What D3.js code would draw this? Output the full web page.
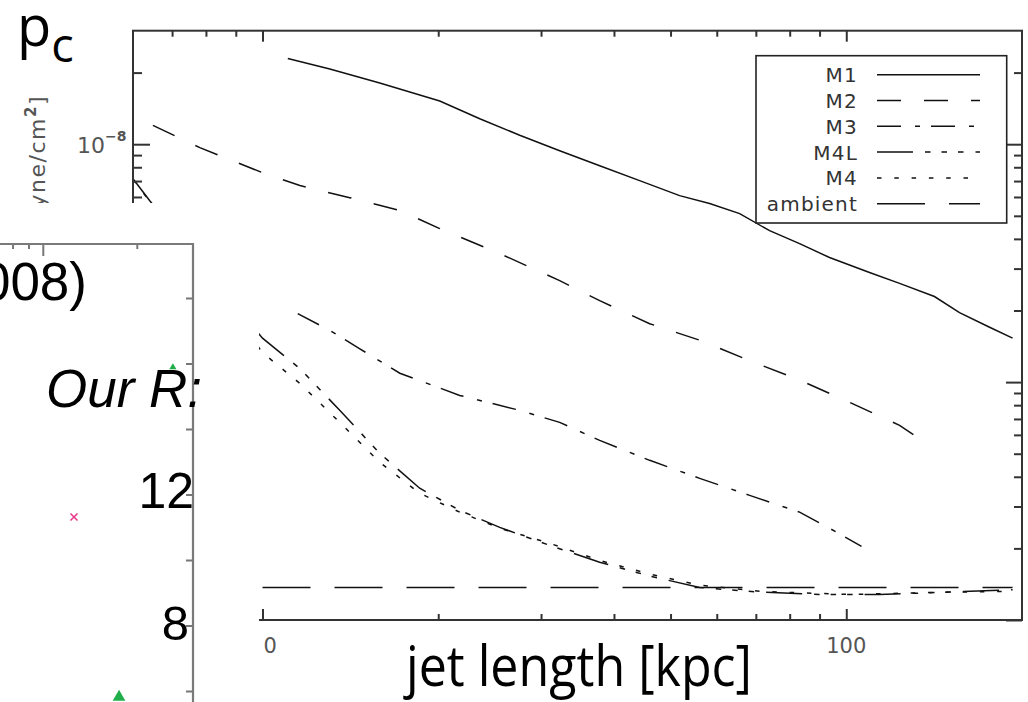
<!DOCTYPE html>
<html>
<head>
<meta charset="UTF-8">
<title>Cocoon pressure vs jet length</title>
<script src="https://cdn.jsdelivr.net/npm/d3@7"></script>
<style>
body { margin: 0; background: #fff; }
svg { display: block; }
.frame { fill: none; stroke: #333; stroke-width: 2px; }
.curve { fill: none; stroke: #111; stroke-width: 1.5px; }
.idl { font-family: "DejaVu Sans", sans-serif; fill: #555; }
.tick line { stroke: #333; stroke-width: 2px; }
</style>
</head>
<body>
<script>
// ---- values: jet length [kpc] and p_c [dyne/cm^2] ----
var m1X = [11.05, 13.04, 15.88, 20.12, 23.56, 27.58, 32.29, 37.81, 44.26, 51.82, 58.33, 65.67, 73.9, 83.18, 93.6, 109.6, 123.4, 141.6, 156.3, 176, 192.7];
var m1Y = [2.29e-8, 2.07e-8, 1.81e-8, 1.52e-8, 1.28e-8, 1.09e-8, 9.39e-9, 8.12e-9, 7.03e-9, 6.08e-9, 5.63e-9, 5.11e-9, 4.33e-9, 3.82e-9, 3.34e-9, 2.89e-9, 2.60e-9, 2.29e-9, 1.96e-9, 1.70e-9, 1.53e-9];

var m2X = [6.49, 7.81, 10, 11.59, 14.11, 17.19, 20.12, 25.49, 32.29, 37.81, 46.05, 56.09, 68.31, 83.18, 101.3, 123.4, 136.2];
var m2Y = [1.20e-8, 9.67e-9, 7.59e-9, 6.70e-9, 5.96e-9, 5.26e-9, 4.42e-9, 3.47e-9, 2.67e-9, 2.20e-9, 1.76e-9, 1.50e-9, 1.23e-9, 1.02e-9, 8.22e-10, 6.58e-10, 5.58e-10];

var m3X = [11.49, 13.04, 14.68, 17.19, 21.77, 27.58, 32.29, 37.81, 46.05, 56.09, 68.31, 83.18, 93.6, 106.2];
var m3Y = [1.94e-9, 1.65e-9, 1.38e-9, 1.09e-9, 8.79e-10, 7.61e-10, 6.77e-10, 5.69e-10, 4.69e-10, 3.94e-10, 3.34e-10, 2.84e-10, 2.43e-10, 2.04e-10];

var m4lX = [6.0, 6.41, 7.81, 10, 11.59, 13.56, 15.88, 18.59, 21.77, 25.49, 31.04, 37.81, 46.05, 56.09, 71.0, 90.0, 114, 150.3, 192.7];
var m4lY = [7.16e-9, 5.79e-9, 3.18e-9, 1.53e-9, 1.14e-9, 7.61e-10, 5.02e-10, 3.58e-10, 2.89e-10, 2.45e-10, 2.06e-10, 1.75e-10, 1.53e-10, 1.37e-10, 1.31e-10, 1.28e-10, 1.28e-10, 1.31e-10, 1.34e-10];

var m4X = [6.0, 6.41, 7.81, 10, 11.59, 13.56, 15.88, 18.59, 21.77, 25.49, 31.04, 37.81, 46.05, 56.09, 71.0, 101.3, 150.3, 192.7];
var m4Y = [7.1e-9, 5.75e-9, 3.05e-9, 1.33e-9, 9.87e-10, 6.77e-10, 4.60e-10, 3.41e-10, 2.84e-10, 2.43e-10, 2.10e-10, 1.78e-10, 1.56e-10, 1.40e-10, 1.32e-10, 1.28e-10, 1.31e-10, 1.32e-10];

var ambX = [10, 192.7];
var ambY = [1.37e-10, 1.37e-10];

var legendNames = ["M1", "M2", "M3", "M4L", "M4", "ambient"];

// tick values
var xMajor = [10, 100];
var xMinor = [7, 8, 9, 20, 30, 40, 50, 60, 70, 80, 90];
var yMajor = [1e-10, 1e-9, 1e-8];
var yMinor = [2e-10, 3e-10, 4e-10, 5e-10, 6e-10, 7e-10, 8e-10, 9e-10,
              2e-9, 3e-9, 4e-9, 5e-9, 6e-9, 7e-9, 8e-9, 9e-9, 2e-8];

// pieces of the slide panel lying over the lower left corner
var panelXTicks = [8, 9, 10, 20];
var panelYTicks = [6, 8, 10, 12, 14, 16, 18];
var panelCross = [[12.54, 11.33]];
var panelTriangles = [[17.48, 5.83], [26.0, 15.9]];

// line styles (dash patterns) per series
var dashes = {
  "M1": null,
  "M2": "24,23",
  "M3": "24,14,5,11",
  "M4L": "36,12,5.5,11,5.5,11,5.5,12",
  "M4": "4.5,12.8",
  "ambient": "48,24"
};

var series = [
  { name: "M1", x: m1X, y: m1Y },
  { name: "M2", x: m2X, y: m2Y },
  { name: "M3", x: m3X, y: m3Y },
  { name: "M4L", x: m4lX, y: m4lY },
  { name: "M4", x: m4X, y: m4Y },
  { name: "ambient", x: ambX, y: ambY }
];

var width = 1028, height = 702;

var svg = d3.select("body").append("svg")
    .attr("width", width)
    .attr("height", height);

// plot box (named so they don't clash with window.top)
var pLeft = 133, pRight = 1022, pTop = 30.7, pBottom = 620;

var x = d3.scaleLog().domain([6, 200]).range([pLeft, pRight]);
var y = d3.scaleLog().domain([1e-10, 3e-8]).range([pBottom, pTop]);

svg.append("clipPath").attr("id", "plotclip")
  .append("rect")
    .attr("x", pLeft).attr("y", pTop)
    .attr("width", pRight - pLeft).attr("height", pBottom - pTop);

// ****************** curves ******************
var line = d3.line()
    .x(function(d) { return x(d[0]); })
    .y(function(d) { return y(d[1]); });

svg.append("g")
    .attr("clip-path", "url(#plotclip)")
  .selectAll("path")
  .data(series)
  .enter().append("path")
    .attr("class", "curve")
    .attr("d", function(s) { return line(d3.zip(s.x, s.y)); })
    .attr("stroke-dasharray", function(s) { return dashes[s.name]; });

// ****************** axes (IDL style, ticks inward on all 4 sides) ******************
function clean(g) {
  g.select(".domain").remove();
  g.selectAll("text").remove();
}

svg.append("g").attr("transform", "translate(0," + pBottom + ")")
    .call(d3.axisBottom(x).tickValues(xMajor).tickSize(-11)).call(clean);
svg.append("g").attr("transform", "translate(0," + pBottom + ")")
    .call(d3.axisBottom(x).tickValues(xMinor).tickSize(-6)).call(clean);
svg.append("g").attr("transform", "translate(0," + pTop + ")")
    .call(d3.axisTop(x).tickValues(xMajor).tickSize(-11)).call(clean);
svg.append("g").attr("transform", "translate(0," + pTop + ")")
    .call(d3.axisTop(x).tickValues(xMinor).tickSize(-6)).call(clean);
svg.append("g").attr("transform", "translate(" + pLeft + ",0)")
    .call(d3.axisLeft(y).tickValues(yMajor).tickSize(-17)).call(clean);
svg.append("g").attr("transform", "translate(" + pLeft + ",0)")
    .call(d3.axisLeft(y).tickValues(yMinor).tickSize(-9)).call(clean);
svg.append("g").attr("transform", "translate(" + pRight + ",0)")
    .call(d3.axisRight(y).tickValues(yMajor).tickSize(-16)).call(clean);
svg.append("g").attr("transform", "translate(" + pRight + ",0)")
    .call(d3.axisRight(y).tickValues(yMinor).tickSize(-8)).call(clean);

svg.append("rect").attr("class", "frame")
    .attr("x", pLeft).attr("y", pTop)
    .attr("width", pRight - pLeft).attr("height", pBottom - pTop);

// tick labels (the "1" of "10" is lost in the reference)
svg.append("text").attr("class", "idl")
    .attr("x", x(10) + 1).attr("y", 653)
    .style("font-size", "21px")
    .text("0");
svg.append("text").attr("class", "idl")
    .attr("x", x(100)).attr("y", 653)
    .attr("text-anchor", "middle")
    .style("font-size", "21px")
    .text("100");

var ylab = svg.append("text").attr("class", "idl")
    .attr("x", 77).attr("y", y(1e-8) + 9)
    .style("font-size", "22px");
ylab.append("tspan").text("10");
ylab.append("tspan").attr("dy", -12).style("font-size", "14px").style("font-weight", "bold").text("\u22128");

// y axis title (its start is hidden under the slide panel)
var ytitle = svg.append("text").attr("class", "idl")
    .attr("transform", "translate(45,95) rotate(-90)")
    .attr("text-anchor", "end")
    .style("font-size", "22px")
    .style("letter-spacing", "1.5px");
ytitle.append("tspan").text("yne/cm");
ytitle.append("tspan").attr("dy", -9).style("font-size", "15px").style("font-weight", "bold").text("2");
ytitle.append("tspan").attr("dy", 9).text("]");

// ****************** legend ******************
var lg = svg.append("g");
lg.append("rect")
    .attr("x", 756).attr("y", 55.7)
    .attr("width", 250.7).attr("height", 167.3)
    .attr("fill", "#fff").attr("stroke", "#222").attr("stroke-width", 1.6);

var rows = lg.selectAll("g.row")
  .data(legendNames)
  .enter().append("g")
    .attr("class", "row")
    .attr("transform", function(d, i) { return "translate(0," + (74.7 + i * 25.8) + ")"; });

rows.append("text").attr("class", "idl")
    .attr("x", 858).attr("y", 7.5)
    .attr("text-anchor", "end")
    .style("fill", "#333")
    .style("font-size", "20px")
    .style("letter-spacing", "1.2px")
    .text(function(d) { return d; });

rows.append("line")
    .attr("x1", 877).attr("x2", 980)
    .attr("y1", 0).attr("y2", 0)
    .attr("stroke", "#111").attr("stroke-width", 1.5)
    .attr("stroke-dasharray", function(d) { return dashes[d]; });

// ****************** slide panel over the lower left ******************
var panel = svg.append("g");
panel.append("rect")
    .attr("x", 0).attr("y", 203)
    .attr("width", 259).attr("height", height - 203)
    .attr("fill", "#fff");

var px = d3.scaleLog().domain([10, 20]).range([43.3, 137.3]);
var py = d3.scaleLinear().domain([8, 12]).range([626, 495]);

panel.selectAll("line.ptx")
  .data(panelXTicks)
  .enter().append("line")
    .attr("x1", function(d) { return px(d); })
    .attr("x2", function(d) { return px(d); })
    .attr("y1", 244)
    .attr("y2", function(d) { return d === 10 ? 256 : 249; })
    .attr("stroke", "#777").attr("stroke-width", 2);

panel.selectAll("line.pty")
  .data(panelYTicks)
  .enter().append("line")
    .attr("x1", 186).attr("x2", 193)
    .attr("y1", function(d) { return py(d); })
    .attr("y2", function(d) { return py(d); })
    .attr("stroke", "#777").attr("stroke-width", 2);

panel.append("path")
    .attr("d", "M0,244H193V" + height)
    .attr("fill", "none").attr("stroke", "#7a7a7a").attr("stroke-width", 2.2);

panel.selectAll("path.tri")
  .data(panelTriangles)
  .enter().append("path")
    .attr("transform", function(d) { return "translate(" + px(d[0]) + "," + py(d[1]) + ")"; })
    .attr("d", function(d, i) { return d3.symbol(d3.symbolTriangle, i === 0 ? 70 : 22)(); })
    .attr("fill", "#1fae4a");

panel.selectAll("path.xmark")
  .data(panelCross)
  .enter().append("path")
    .attr("d", function(d) {
      var cx = px(d[0]), cy = py(d[1]);
      return "M" + (cx - 3.5) + "," + (cy - 3.5) + "L" + (cx + 3.5) + "," + (cy + 3.5) +
             "M" + (cx - 3.5) + "," + (cy + 3.5) + "L" + (cx + 3.5) + "," + (cy - 3.5);
    })
    .attr("stroke", "#e8358b").attr("stroke-width", 1.5);

var arial = '"Liberation Sans", Arial, sans-serif';

panel.append("text")
    .attr("x", 87).attr("y", 300)
    .attr("text-anchor", "end")
    .style("font-family", arial).style("font-size", "53px")
    .text("008)");

panel.append("text")
    .attr("x", 194).attr("y", py(12) + 13)
    .attr("text-anchor", "end")
    .style("font-family", arial).style("font-size", "50px")
    .text("12");

panel.append("text")
    .attr("x", 189).attr("y", py(8) + 14)
    .attr("text-anchor", "end")
    .style("font-family", arial).style("font-size", "49px")
    .text("8");

svg.append("text")
    .attr("x", 46).attr("y", 407)
    .style("font-family", arial).style("font-style", "italic").style("font-size", "53px")
    .text("Our R:");

// ****************** slide titles ******************
var sans = '"Open Sans", "Noto Sans", sans-serif';

var pc = svg.append("text")
    .attr("x", 17).attr("y", 46)
    .style("font-family", sans).style("font-size", "56px");
pc.append("tspan").text("p");
pc.append("tspan").attr("dy", 16).style("font-size", "47px").text("c");

svg.append("text")
    .attr("x", 406).attr("y", 686)
    .attr("textLength", 346)
    .attr("lengthAdjust", "spacingAndGlyphs")
    .style("font-family", sans).style("font-size", "56px")
    .text("jet length [kpc]");
</script>
</body>
</html>
